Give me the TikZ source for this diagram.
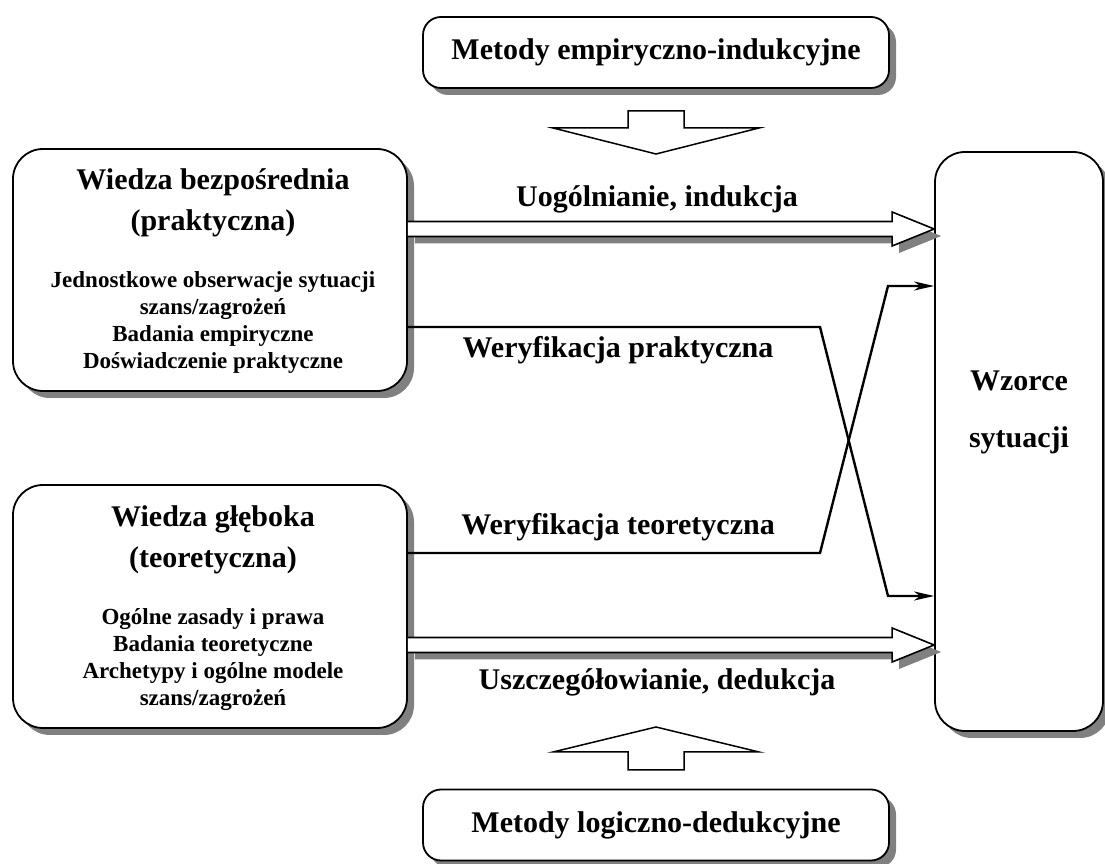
\documentclass[tikz,border=0pt]{standalone}
\usepackage{fontspec}
\setmainfont{Liberation Serif}
\usetikzlibrary{shadows,arrows.meta,calc}

\tikzset{
  boks/.style={draw, line width=1.8pt, fill=white, rounded corners=30pt,
    drop shadow={shadow xshift=7pt, shadow yshift=-7pt, fill=black!50, opacity=1}},
  metoda/.style={boks, rounded corners=18pt, minimum width=466pt,
    minimum height=71pt, font=\fontsize{30}{36}\selectfont\bfseries},
  tytul/.style={align=center, font=\fontsize{30}{41}\selectfont\bfseries},
  opis/.style={align=center, font=\fontsize{23}{27}\selectfont\bfseries},
  etykieta/.style={anchor=base, font=\fontsize{30}{36}\selectfont\bfseries},
  strzalka/.style={line width=2.4pt, -{Stealth[length=20pt,width=9pt,inset=6pt]}},
  pusta/.style={draw, line width=1.5pt, fill=white},
  blokowa/.style={pusta, line width=1.6pt,
    drop shadow={shadow xshift=7pt, shadow yshift=-7pt, fill=black!50, opacity=1}}
}

\begin{document}
\begin{tikzpicture}[x=1pt,y=1pt]
  \useasboundingbox (0,0) rectangle (1105,864);

  % metody
  \node[metoda] (emp) at (656,811.5) {Metody empiryczno-indukcyjne};
  \node[metoda] (log) at (656,39) {Metody logiczno-dedukcyjne};

  % wiedza
  \node[boks, minimum width=394pt, minimum height=242pt] (bezp) at (210,594) {};
  \node[tytul] (bezpT) at (213,661) {Wiedza bezpośrednia\\(praktyczna)};
  \node[opis] (bezpO) at (213,541)
    {Jednostkowe obserwacje sytuacji\\szans/zagrożeń\\Badania empiryczne\\Doświadczenie praktyczne};

  \node[boks, minimum width=394pt, minimum height=243pt] (gleb) at (210,257.5) {};
  \node[tytul] (glebT) at (213,324.5) {Wiedza głęboka\\(teoretyczna)};
  \node[opis] (glebO) at (213,204)
    {Ogólne zasady i prawa\\Badania teoretyczne\\Archetypy i ogólne modele\\szans/zagrożeń};

  % wzorce
  \node[boks, minimum width=168pt, minimum height=579pt] (wzor) at (1019,422.5) {};
  \node[tytul, font=\fontsize{30}{57}\selectfont\bfseries] (wzorT) at (1019,452) {Wzorce\\sytuacji};

  % puste strzalki
  \draw[pusta] (628,753) -- (684,753) -- (684,736) -- (759,736) -- (656,710)
    -- (553,736) -- (628,736) -- cycle;
  \draw[pusta] (628,94) -- (684,94) -- (684,112) -- (759,112) -- (656,137)
    -- (553,112) -- (628,112) -- cycle;

  % uogolnianie / uszczegolowianie
  \coordinate (uA) at (bezp.east |- 0,635);
  \coordinate (uB) at (wzor.west |- 0,635);
  \draw[blokowa] ($(uA)+(0,7.5)$) -- ($(uB)+(-42,7.5)$) -- ($(uB)+(-42,17)$) -- (uB)
    -- ($(uB)+(-42,-17)$) -- ($(uB)+(-42,-7.5)$) -- ($(uA)+(0,-7.5)$);
  \coordinate (dA) at (gleb.east |- 0,219);
  \coordinate (dB) at (wzor.west |- 0,219);
  \draw[blokowa] ($(dA)+(0,7.5)$) -- ($(dB)+(-42,7.5)$) -- ($(dB)+(-42,17)$) -- (dB)
    -- ($(dB)+(-42,-17)$) -- ($(dB)+(-42,-7.5)$) -- ($(dA)+(0,-7.5)$);
  \node[etykieta] (uog) at (657,657) {Uogólnianie, indukcja};
  \node[etykieta] (usz) at (657,174) {Uszczegółowianie, dedukcja};

  % weryfikacja
  \draw[strzalka] (bezp.east |- 0,537) -- (820,537) -- (888,268) -- (wzor.west |- 0,268);
  \draw[strzalka] (gleb.east |- 0,311) -- (820,311) -- (888,578) -- (wzor.west |- 0,578);
  \node[etykieta] (werP) at (618,506) {Weryfikacja praktyczna};
  \node[etykieta] (werT) at (618,329) {Weryfikacja teoretyczna};
\end{tikzpicture}
\end{document}
